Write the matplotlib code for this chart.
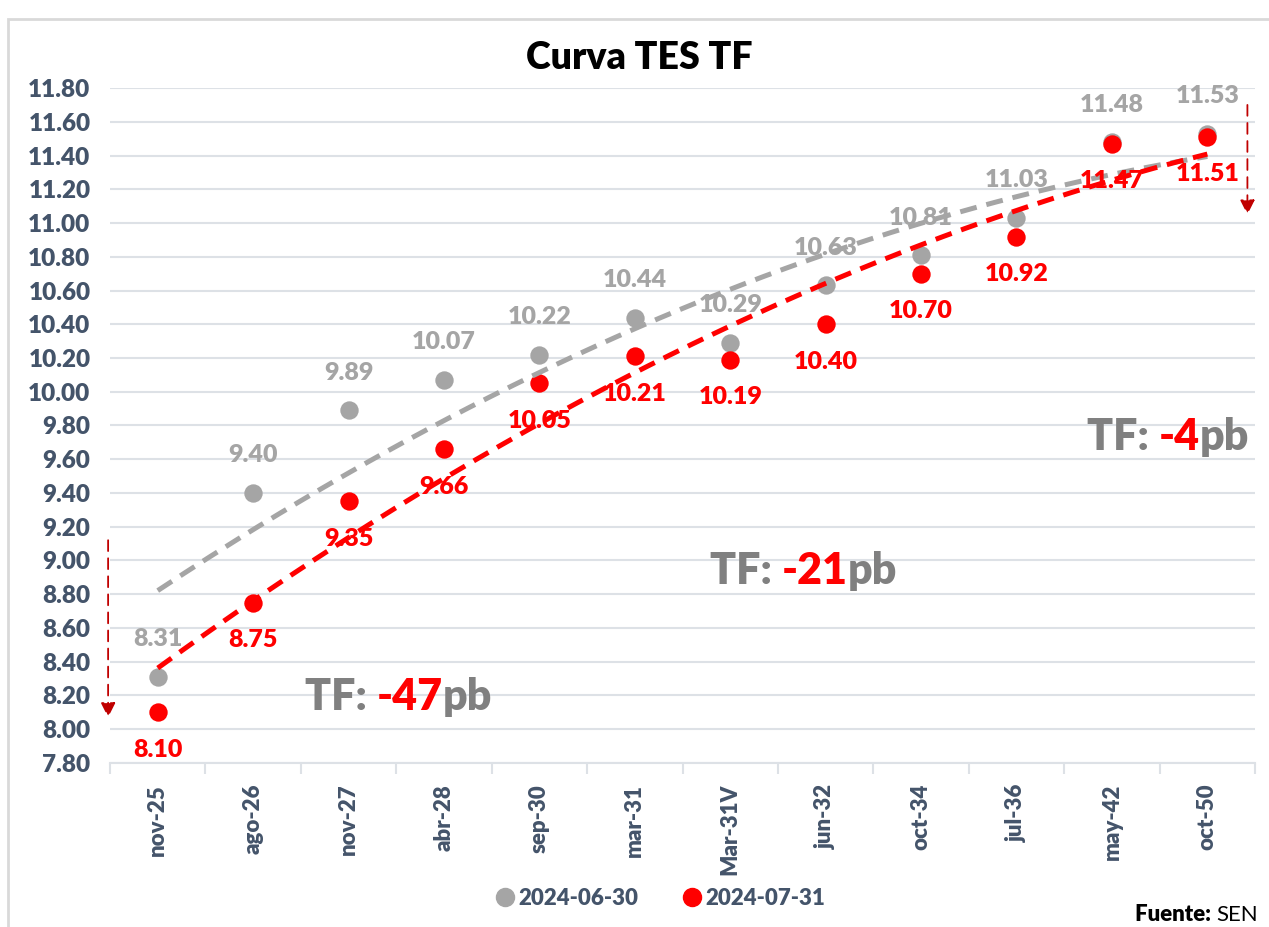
"""Curva TES TF: comparación de la curva de rendimientos 2024-06-30 vs 2024-07-31."""

import matplotlib
matplotlib.use("Agg")
import matplotlib.pyplot as plt
import numpy as np
from matplotlib.lines import Line2D
from matplotlib.patches import Rectangle

plt.rcParams["font.family"] = ["Lato", "DejaVu Sans"]
plt.rcParams["font.weight"] = "heavy"

# --- data ---
categories = ["nov-25", "ago-26", "nov-27", "abr-28", "sep-30", "mar-31",
              "Mar-31V", "jun-32", "oct-34", "jul-36", "may-42", "oct-50"]
tes_jun = [8.31, 9.40, 9.89, 10.07, 10.22, 10.44, 10.29, 10.63, 10.81, 11.03, 11.48, 11.53]
tes_jul = [8.10, 8.75, 9.35, 9.66, 10.05, 10.21, 10.19, 10.40, 10.70, 10.92, 11.47, 11.51]
series_names = ["2024-06-30", "2024-07-31"]

# annotations: (x index, y value, change in pb)
notes = [(1.54, 8.19, "-47"), (5.79, 8.94, "-21"), (9.74, 9.73, "-4")]

GRAY = "#A5A5A5"
RED = "#FF0000"
DARKRED = "#C00000"
SLATE = "#44546A"
GRID = "#DDE1E6"


def rich(ax, x, y, parts, size, coords):
    """Draw text pieces of different colour/weight next to each other."""
    prev = None
    for text, color, weight in parts:
        if prev is None:
            prev = ax.annotate(text, xy=(x, y), xycoords=coords, ha="left",
                               va="center", fontsize=size, color=color,
                               fontweight=weight, annotation_clip=False)
        else:
            prev = ax.annotate(text, xy=(1, 0), xycoords=prev, ha="left",
                               va="bottom", fontsize=size, color=color,
                               fontweight=weight, annotation_clip=False)
    return prev


fig = plt.figure(figsize=(12.69, 9.27), dpi=100)
ax = fig.add_axes([0.0867, 0.177, 0.9023, 0.728])

x = np.arange(len(categories))

# trendlines (polynomial order 2)
xf = np.linspace(0, len(categories) - 1, 200)
for vals, col in [(tes_jun, GRAY), (tes_jul, RED)]:
    coef = np.polyfit(x + 1, vals, 2)
    ax.plot(xf, np.polyval(coef, xf + 1), color=col, lw=3.6, ls=(0, (3.4, 2.0)),
            zorder=4, solid_capstyle="butt")

ax.scatter(x, tes_jun, s=175, color=GRAY, zorder=3, linewidths=0)
ax.scatter(x, tes_jul, s=175, color=RED, zorder=3, linewidths=0)

for xi, v in zip(x, tes_jun):
    ax.annotate(f"{v:.2f}", (xi, v), xytext=(0, 27), textcoords="offset points",
                ha="center", va="center", fontsize=18, color=GRAY, zorder=5)
for xi, v in zip(x, tes_jul):
    ax.annotate(f"{v:.2f}", (xi, v), xytext=(0, -27), textcoords="offset points",
                ha="center", va="center", fontsize=18, color=RED, zorder=5)

# axes styling
ax.set_xlim(-0.5, len(categories) - 0.5)
ax.set_ylim(7.8, 11.8)
ax.set_yticks(np.arange(7.8, 11.81, 0.2))
ax.set_yticklabels([f"{t:.2f}" for t in np.arange(7.8, 11.81, 0.2)])
ax.set_xticks(x)
ax.set_xticklabels(categories, rotation=90, ha="center", va="top")
ax.set_xticks(np.arange(-0.5, len(categories)), minor=True)
ax.tick_params(axis="y", length=0, pad=14, labelsize=17.5, labelcolor=SLATE)
ax.tick_params(axis="x", which="major", length=0, pad=15, labelsize=16, labelcolor=SLATE)
ax.tick_params(axis="x", which="minor", length=8, width=1.5, color=GRID)
ax.grid(axis="y", color=GRID, lw=1.5)
ax.set_axisbelow(True)
for s in ["top", "left", "right"]:
    ax.spines[s].set_visible(False)
ax.spines["bottom"].set_color(GRID)
ax.spines["bottom"].set_linewidth(1.5)

# change annotations
for nx, ny, pb in notes:
    rich(ax, nx, ny, [("TF: ", "#808080", "heavy"), (pb, RED, "heavy"), ("pb", "#808080", "heavy")],
         31, "data")

# dashed arrows
for ax_x, y0, y1 in [(-0.52, 9.12, 8.07), (11.42, 11.70, 11.05)]:
    ax.annotate("", xy=(ax_x, y1), xytext=(ax_x, y0), xycoords="data",
                arrowprops=dict(arrowstyle="-|>", color=DARKRED, lw=1.3, ls=(0, (6, 4)),
                                mutation_scale=22, shrinkA=0, shrinkB=0),
                annotation_clip=False)

fig.text(0.504, 0.937, "Curva TES TF", ha="center", va="center", fontsize=27,
         color="black", fontweight="heavy")

handles = [Line2D([], [], marker="o", ls="none", color=GRAY, markersize=13),
           Line2D([], [], marker="o", ls="none", color=RED, markersize=13)]
fig.legend(handles, series_names, loc="center", bbox_to_anchor=(0.519, 0.031), ncol=2,
           frameon=False, handletextpad=0.0, columnspacing=1.8, handlelength=1.2,
           prop={"size": 16, "weight": "heavy"}, labelcolor=SLATE)

src = fig.text(0.991, 0.013, "SEN", ha="right", va="center", fontsize=16,
               color="black", fontweight="normal")
ax.annotate("Fuente: ", xy=(0, 0), xycoords=src, ha="right", va="bottom",
            fontsize=16, color="black", fontweight="heavy", annotation_clip=False)

fig.patches.append(Rectangle((0.006, -0.02), 1.1, 1.0, transform=fig.transFigure,
                             fill=False, edgecolor="#D9D9D9", lw=2))

fig.savefig("out.png", dpi=100, facecolor="white")
